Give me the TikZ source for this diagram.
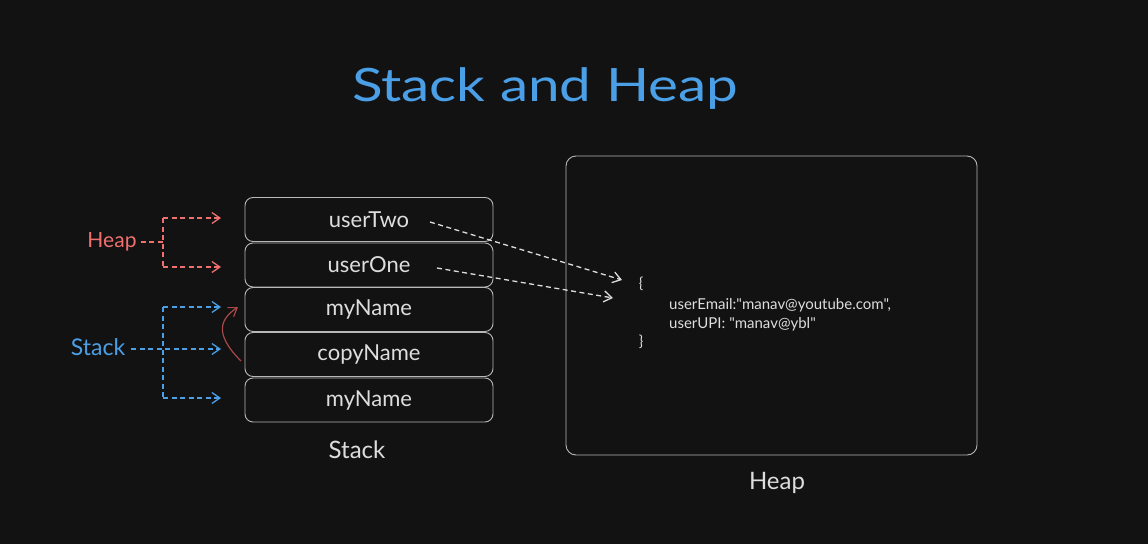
\documentclass[tikz,border=0pt]{standalone}
\usepackage{fontspec}
\setmainfont{Lato}
\newfontfamily\plainfont[Ligatures=ResetAll]{Lato}
\usetikzlibrary{arrows.meta}
\definecolor{bg}{HTML}{121212}
\definecolor{fg}{HTML}{DDDDDD}
\definecolor{boxline}{HTML}{B8B8B8}
\definecolor{tblue}{HTML}{4A9FE6}
\definecolor{tred}{HTML}{F07070}
\definecolor{dred}{HTML}{A84848}
\newcommand\lowtxt[1]{\raisebox{-2pt}{#1}}
\tikzset{
  cell/.style={draw=boxline, line width=0.9pt, rounded corners=8pt, minimum width=248pt, minimum height=44pt, inner sep=0pt, text=fg, font=\fontsize{22}{24}\selectfont},
  lbl/.style={text=fg, inner sep=0pt},
  darr/.style={dashed, dash pattern=on 5pt off 3.5pt, line width=1.3pt, -{Straight Barb[length=8pt,width=11pt]}},
  dline/.style={dashed, dash pattern=on 5pt off 3.5pt, line width=1.3pt},
}
\begin{document}
\begin{tikzpicture}[x=1pt,y=-1pt]
\fill[bg] (0,0) rectangle (1148,544);
\useasboundingbox (0,0) rectangle (1148,544);

\node[text=tblue, font=\fontsize{46}{50}\selectfont, inner sep=0pt, xscale=1.23, transform shape] (title) at (545,89) {Stack and Heap};

% stack cells
\node[cell] (c1) at (369,219.5) {\lowtxt{userTwo}};
\node[cell] (c2) at (369,265) {\lowtxt{userOne}};
\node[cell] (c3) at (369,309.5) {\lowtxt{myName}};
\node[cell] (c4) at (369,354.5) {\lowtxt{copyName}};
\node[cell] (c5) at (369,400) {\lowtxt{myName}};
\node[lbl, font=\fontsize{24}{28}\selectfont] (stacklbl) at (357,450) {Stack};

% heap box
\node[draw=boxline, line width=0.9pt, rounded corners=10pt, minimum width=411pt, minimum height=299pt, inner sep=0pt] (heap) at (771.5,305.5) {};
\node[lbl, font=\fontsize{24}{28}\selectfont] (heaplbl) at (777,483) {Heap};

\node[lbl, font=\fontsize{15}{18}\selectfont] (ob) at (641,284) {\{};
\node[lbl, font=\fontsize{15}{18}\selectfont] (cb) at (641,342) {\}};
\node[lbl, font=\plainfont\fontsize{15}{19}\selectfont, anchor=west, align=left] (obj) at (669,315) {userEmail:"manav@youtube.com",\\userUPI: "manav@ybl"};

% references to heap
\coordinate (t1) at (430,222);
\coordinate (t2) at (437,268);
\coordinate (h1) at (622,280);
\coordinate (h2) at (613,298);
\draw[darr, fg] (t1) -- (h1);
\draw[darr, fg] (t2) -- (h2);

% red heap label
\node[text=tred, font=\fontsize{21}{24}\selectfont, inner sep=0pt] (hl) at (112,242) {Heap};
\coordinate (rj) at (163,242);
\coordinate (rt) at (163,218);
\coordinate (rb) at (163,267);
\coordinate (ra1) at (221,218);
\coordinate (ra2) at (221,267);
\draw[dline, tred] (hl.east) ++(4,0) -- (rj);
\draw[dline, tred] (rt) -- (rb);
\draw[darr, tred] (rt) -- (ra1);
\draw[darr, tred] (rb) -- (ra2);

% blue stack label
\node[text=tblue, font=\fontsize{23}{26}\selectfont, inner sep=0pt] (sl) at (98,347) {Stack};
\coordinate (bt) at (163,307);
\coordinate (bb) at (163,398);
\coordinate (ba1) at (221,307);
\coordinate (ba2) at (221,349);
\coordinate (ba3) at (221,398);
\draw[dline, tblue] (bt) -- (bb);
\draw[darr, tblue] (sl.east) ++(6,2) -- (ba2);
\draw[darr, tblue] (bt) -- (ba1);
\draw[darr, tblue] (bb) -- (ba3);

% copy arrow
\coordinate (cs) at (241,361);
\coordinate (ce) at (238,307);
\draw[dred, line width=1.2pt, -{Straight Barb[length=8pt,width=11pt]}] (cs) .. controls (212,332) and (222,318) .. (ce);
\end{tikzpicture}
\end{document}
